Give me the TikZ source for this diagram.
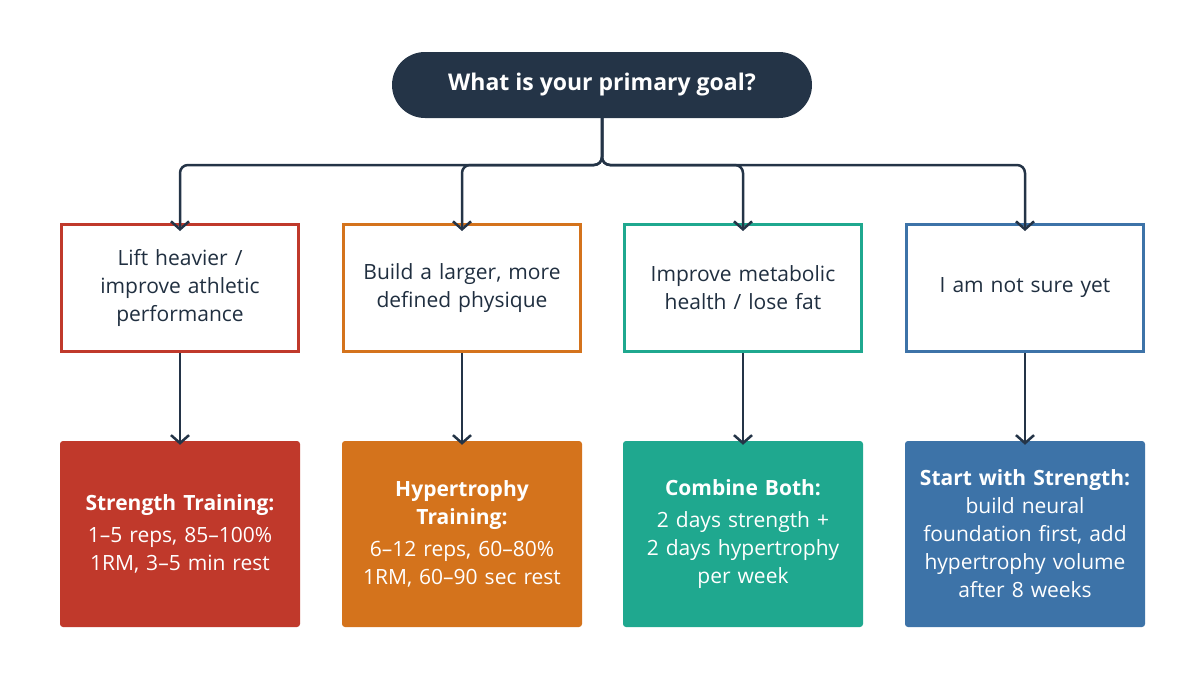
\documentclass[tikz,border=0pt]{standalone}
\usepackage{fontspec}
\setmainfont{Open Sans}
\usetikzlibrary{arrows.meta}
\definecolor{navy}{HTML}{243447}
\definecolor{cred}{HTML}{C0392B}
\definecolor{corange}{HTML}{D4731C}
\definecolor{cteal}{HTML}{1FA88F}
\definecolor{cblue}{HTML}{3D73A8}
\begin{document}
\begin{tikzpicture}[x=1pt,y=-1pt,
  qbox/.style={draw=#1,line width=3pt,fill=white,minimum width=237pt,minimum height=127pt,align=center,text width=210pt,font=\fontsize{21}{28}\selectfont,text=navy!90!black},
  abox/.style={fill=#1,rounded corners=3pt,minimum width=240pt,minimum height=186pt,align=center,text width=225pt,font=\fontsize{21}{28}\selectfont,text=white},
  conn/.style={draw=navy,line width=2.5pt,-{Straight Barb[length=8pt,width=18pt,line width=2.5pt]}},
]
\useasboundingbox (0,0) rectangle (1204,672);
\node[fill=navy,rounded corners=33pt,minimum width=420pt,minimum height=66pt,text=white,font=\fontsize{23}{27}\selectfont\bfseries] (goal) at (602,85) {What is your primary goal?};
\node[qbox=cred] (q1) at (180,288) {Lift heavier /\\improve athletic\\performance};
\node[qbox=corange] (q2) at (462,288) {Build a larger, more\\defined physique};
\node[qbox=cteal] (q3) at (743,288) {Improve metabolic\\health / lose fat};
\node[qbox=cblue] (q4) at (1025,288) {I am not sure yet};
\node[abox=cred] (a1) at (180,534) {\textbf{Strength Training:}\\[4pt]1--5 reps, 85--100\%\\1RM, 3--5 min rest};
\node[abox=corange] (a2) at (462,534) {\textbf{Hypertrophy}\\\textbf{Training:}\\[4pt]6--12 reps, 60--80\%\\1RM, 60--90 sec rest};
\node[abox=cteal] (a3) at (743,534) {\textbf{Combine Both:}\\[4pt]2 days strength +\\2 days hypertrophy\\per week};
\node[abox=cblue] (a4) at (1025,534) {\textbf{Start with Strength:}\\build neural\\foundation first, add\\hypertrophy volume\\after 8 weeks};
\coordinate (j) at (602,165);
\foreach \q in {q1,q2,q3,q4}{
  \draw[conn,rounded corners=8pt] (goal.south) -- (j) -| ([yshift=-8pt]\q.north);
}
\foreach \i in {1,2,3,4}{
  \draw[conn] (q\i.south) -- ([yshift=-4pt]a\i.north);
}
\end{tikzpicture}
\end{document}
